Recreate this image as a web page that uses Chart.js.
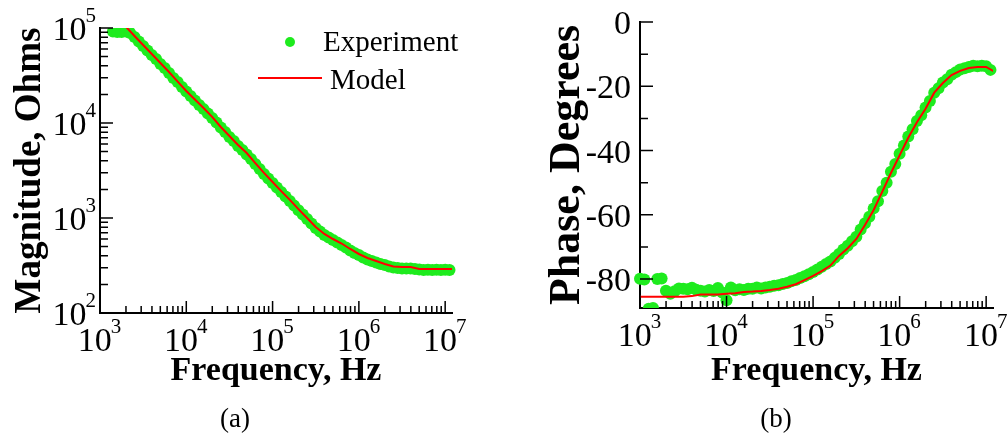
<!DOCTYPE html>
<html lang="en">
<head>
  <meta charset="UTF-8">
  <title>Impedance Magnitude and Phase</title>
  <script src="https://cdn.jsdelivr.net/npm/chart.js"></script>
  <style>
    body { margin: 0; background: #fff; }
    #page { position: relative; width: 1007px; height: 436px; overflow: hidden; font-family: "Liberation Serif", "Times New Roman", serif; color: #000; }
    .panel { position: absolute; top: 0; height: 436px; }
    #magPanel { left: 0; width: 500px; }
    #phasePanel { left: 500px; width: 507px; }
    .leg { position: absolute; font-size: 29px; line-height: 30px; white-space: nowrap; }
    .dot { position: absolute; left: 285px; top: 37px; width: 10px; height: 10px; border-radius: 50%; background: rgb(30, 235, 30); }
    .redline { position: absolute; left: 258px; top: 77px; width: 64px; height: 2px; background: #f00; }
    .caption { position: absolute; top: 403px; font-size: 27px; line-height: 30px; width: 60px; text-align: center; }
  </style>
</head>
<body>
<div id="page">
  <div class="panel" id="magPanel"><canvas id="magChart"></canvas></div>
  <div class="panel" id="phasePanel"><canvas id="phaseChart"></canvas></div>

  <!-- legend for panel (a) -->
  <div class="dot"></div>
  <div class="leg" style="left:323px; top:26px;">Experiment</div>
  <div class="redline"></div>
  <div class="leg" style="left:330px; top:64px;">Model</div>

  <div class="caption" style="left:205px;">(a)</div>
  <div class="caption" style="left:746px;">(b)</div>
</div>

<script>
  // frequencies of the measured points (20 per decade)
  const freqExp = [
    1000, 1122, 1259, 1413, 1585, 1778, 1995, 2239, 2512, 2818, 3162, 3548, 3981, 4467, 5012, 5623, 6310, 7079, 7943, 8913,
    10000, 11220, 12590, 14130, 15850, 17780, 19950, 22390, 25120, 28180, 31620, 35480, 39810, 44670, 50120, 56230, 63100, 70790, 79430, 89130,
    100000, 112200, 125900, 141300, 158500, 177800, 199500, 223900, 251200, 281800, 316200, 354800, 398100, 446700, 501200, 562300, 631000, 707900, 794300, 891300,
    1000000, 1122000, 1259000, 1413000, 1585000, 1778000, 1995000, 2239000, 2512000, 2818000, 3162000, 3548000, 3981000, 4467000, 5012000, 5623000, 6310000, 7079000, 7943000, 8913000,
    10000000, 11220000
  ];

  // frequencies of the model curve (10 per decade)
  const freqModel = [
    1000, 1259, 1585, 1995, 2512, 3162, 3981, 5012, 6310, 7943,
    10000, 12590, 15850, 19950, 25120, 31620, 39810, 50120, 63100, 79430,
    100000, 125900, 158500, 199500, 251200, 316200, 398100, 501200, 631000, 794300,
    1000000, 1259000, 1585000, 1995000, 2512000, 3162000, 3981000, 5012000, 6310000, 7943000,
    10000000, 12590000
  ];

  // |Z| in ohms
  const magExp = [
    null, null, null, 91900, 90800, 90800, 91900, 88600, 80400, 72100,
    64700, 58000, 52000, 47200, 41800, 37900, 33600, 29800, 27000, 23900,
    21500, 19200, 17300, 15500, 14000, 12600, 11300, 10100, 8970, 8040,
    7120, 6470, 5730, 5200, 4660, 4180, 3700, 3280, 2910, 2610,
    2340, 2100, 1880, 1680, 1510, 1350, 1210, 1090, 976, 875,
    785, 721, 662, 623, 587, 552, 520, 489, 455, 428,
    408, 384, 366, 353, 340, 328, 320, 309, 301, 298,
    294, 294, 294, 290, 287, 284, 285, 284, 286, 284,
    285, 284
  ];
  const magModel = [
    200000, 160400, 128700, 103200, 82400, 66300, 53200, 42800, 34400, 27300,
    21700, 17700, 14400, 11600, 9080, 7300, 5870, 4830, 3790, 2980,
    2390, 1920, 1550, 1240, 1000, 804, 679, 601, 539, 472,
    418, 379, 353, 328, 309, 305, 305, 291, 291, 291,
    291, 291
  ];

  // phase in degrees
  const phaseExp = [
    -79.9, -80.1, -89.2, -89.0, -80.0, -79.8, -83.6, -84.6, -83.8, -82.9,
    -83.0, -83.2, -82.7, -83.3, -83.6, -83.9, -83.4, -83.7, -82.8, -84.2,
    -86.6, -82.6, -83.5, -83.2, -83.4, -83.0, -83.0, -82.6, -82.9, -82.6,
    -82.4, -82.1, -81.9, -81.5, -81.2, -80.7, -80.3, -79.7, -79.1, -78.5,
    -77.8, -77.0, -76.2, -75.3, -74.5, -73.4, -72.2, -70.8, -69.6, -68.2,
    -66.8, -64.6, -62.6, -60.6, -58.0, -55.8, -52.6, -50.0, -46.6, -44.2,
    -41.0, -38.4, -35.6, -33.4, -30.8, -29.0, -26.6, -24.6, -22.0, -20.6,
    -18.8, -17.8, -16.4, -15.6, -14.8, -14.4, -14.0, -13.6, -13.8, -13.6,
    -13.8, -14.9
  ];
  const phaseModel = [
    -85.5, -85.5, -85.5, -85.5, -85.5, -85.5, -85.3, -84.8, -84.8, -84.8,
    -84.6, -84.4, -84.0, -83.9, -83.7, -83.4, -83.0, -82.4, -81.6, -80.3,
    -79.0, -77.5, -75.8, -72.8, -70.4, -67.5, -63.2, -58.5, -52.8, -47.0,
    -41.5, -36.0, -31.2, -27.0, -22.0, -19.0, -16.5, -15.2, -14.3, -14.0,
    -14.0, -15.5
  ];

  // tick marks and labels
  const freqTicks = [1e3, 1e4, 1e5, 1e6, 1e7];
  const freqTickExp = ['3', '4', '5', '6', '7'];
  const freqMinor = [
    2e3, 3e3, 4e3, 5e3, 6e3, 7e3, 8e3, 9e3,
    2e4, 3e4, 4e4, 5e4, 6e4, 7e4, 8e4, 9e4,
    2e5, 3e5, 4e5, 5e5, 6e5, 7e5, 8e5, 9e5,
    2e6, 3e6, 4e6, 5e6, 6e6, 7e6, 8e6, 9e6
  ];
  const magTicks = [1e2, 1e3, 1e4, 1e5];
  const magTickExp = ['2', '3', '4', '5'];
  const magMinor = [
    200, 300, 400, 500, 600, 700, 800, 900,
    2e3, 3e3, 4e3, 5e3, 6e3, 7e3, 8e3, 9e3,
    2e4, 3e4, 4e4, 5e4, 6e4, 7e4, 8e4, 9e4
  ];
  const phaseTicks = [0, -20, -40, -60, -80];
  const phaseTickLabels = ['0', '-20', '-40', '-60', '-80'];
  const phaseMinor = [-10, -30, -50, -70];

  const FAMILY = '"Liberation Serif", "Times New Roman", serif';
  const GREEN = 'rgb(30, 235, 30)';
  const RED = '#ff0000';

  function pts(xs, ys) {
    const out = [];
    xs.forEach((x, i) => { if (ys[i] !== null) out.push({ x: x, y: ys[i] }); });
    return out;
  }

  // draws "10" with a raised exponent
  function drawPower(ctx, exp, x, baseline, align) {
    ctx.font = '34px ' + FAMILY;
    const wb = ctx.measureText('10').width;
    ctx.font = '21px ' + FAMILY;
    const we = ctx.measureText(exp).width;
    let start = align === 'center' ? x - (wb + we) / 2 : x - wb - we;
    ctx.textAlign = 'left';
    ctx.font = '34px ' + FAMILY;
    ctx.fillText('10', start, baseline);
    ctx.font = '21px ' + FAMILY;
    ctx.fillText(exp, start + wb - 1, baseline - 18);
  }

  // inward tick marks and tick labels, like the original plotting program
  function axisDecor(yCfg) {
    return {
      id: 'axisDecor',
      afterDatasetsDraw(chart) {
        const ctx = chart.ctx;
        const area = chart.chartArea;
        const xs = chart.scales.x;
        const ys = chart.scales.y;
        ctx.save();
        ctx.strokeStyle = '#000';
        ctx.lineWidth = 1.5;
        ctx.beginPath();
        freqTicks.forEach(v => {
          const px = xs.getPixelForValue(v);
          ctx.moveTo(px, area.bottom); ctx.lineTo(px, area.bottom - 12);
        });
        freqMinor.forEach(v => {
          const px = xs.getPixelForValue(v);
          ctx.moveTo(px, area.bottom); ctx.lineTo(px, area.bottom - 7);
        });
        yCfg.major.forEach(v => {
          const py = ys.getPixelForValue(v);
          ctx.moveTo(area.left, py); ctx.lineTo(area.left + 13, py);
        });
        yCfg.minor.forEach(v => {
          const py = ys.getPixelForValue(v);
          ctx.moveTo(area.left, py); ctx.lineTo(area.left + 8, py);
        });
        ctx.stroke();

        ctx.fillStyle = '#000';
        ctx.textBaseline = 'alphabetic';
        freqTicks.forEach((v, i) => {
          drawPower(ctx, freqTickExp[i], xs.getPixelForValue(v), area.bottom + 38, 'center');
        });
        yCfg.major.forEach((v, i) => {
          const py = ys.getPixelForValue(v);
          if (yCfg.power) {
            drawPower(ctx, yCfg.labels[i], area.left - 3, py + 12, 'right');
          } else {
            ctx.font = '34px ' + FAMILY;
            ctx.textAlign = 'right';
            ctx.fillText(yCfg.labels[i], area.left - 9, py + 12);
          }
        });
        ctx.restore();
      }
    };
  }

  function xAxis(height) {
    return {
      type: 'logarithmic',
      position: 'bottom',
      min: 1000,
      max: 12000000,
      grid: { display: false },
      ticks: { display: false },
      border: { color: '#000', width: 2 },
      title: {
        display: true,
        text: 'Frequency, Hz',
        color: '#000',
        padding: 0,
        font: { family: FAMILY, size: 34, weight: 'bold' }
      },
      afterFit(scale) { scale.height = height; }
    };
  }

  function yTitle(text, size) {
    return {
      display: true,
      text: text,
      color: '#000',
      padding: 0,
      font: { family: FAMILY, size: size, weight: 'bold' }
    };
  }

  const common = {
    responsive: true,
    maintainAspectRatio: false,
    animation: false,
    events: [],
    plugins: { legend: { display: false }, tooltip: { enabled: false } }
  };

  new Chart(document.getElementById('magChart'), {
    type: 'scatter',
    data: {
      datasets: [
        {
          label: 'Model',
          data: pts(freqModel, magModel),
          showLine: true,
          borderColor: RED,
          borderWidth: 2,
          pointRadius: 0,
          clip: 0
        },
        {
          label: 'Experiment',
          data: pts(freqExp, magExp),
          showLine: false,
          backgroundColor: GREEN,
          borderWidth: 0,
          pointRadius: 6,
          clip: { left: 6, top: 0, right: 6, bottom: 0 }
        }
      ]
    },
    options: Object.assign({}, common, {
      layout: { padding: { left: 8, right: 48, top: 28, bottom: 44 } },
      scales: {
        x: xAxis(79),
        y: {
          type: 'logarithmic',
          position: 'left',
          min: 100,
          max: 100000,
          grid: { display: false },
          ticks: { display: false },
          border: { color: '#000', width: 2 },
          title: yTitle('Magnitude, Ohms', 37),
          afterFit(scale) { scale.width = 92; }
        }
      }
    }),
    plugins: [axisDecor({ major: magTicks, minor: magMinor, labels: magTickExp, power: true })]
  });

  new Chart(document.getElementById('phaseChart'), {
    type: 'scatter',
    data: {
      datasets: [
        {
          label: 'Model',
          data: pts(freqModel, phaseModel),
          showLine: true,
          borderColor: RED,
          borderWidth: 2,
          pointRadius: 0,
          clip: 0
        },
        {
          label: 'Experiment',
          data: pts(freqExp, phaseExp),
          showLine: false,
          backgroundColor: GREEN,
          borderWidth: 0,
          pointRadius: 6,
          clip: { left: 6, top: 0, right: 6, bottom: 0 }
        }
      ]
    },
    options: Object.assign({}, common, {
      layout: { padding: { left: 41, right: 14, top: 22, bottom: 44 } },
      scales: {
        x: xAxis(84),
        y: {
          type: 'linear',
          position: 'left',
          min: -89,
          max: 0,
          grid: { display: false },
          ticks: { display: false },
          border: { color: '#000', width: 2 },
          title: yTitle('Phase, Degrees', 44),
          afterFit(scale) { scale.width = 99; }
        }
      }
    }),
    plugins: [axisDecor({ major: phaseTicks, minor: phaseMinor, labels: phaseTickLabels, power: false })]
  });
</script>
</body>
</html>
